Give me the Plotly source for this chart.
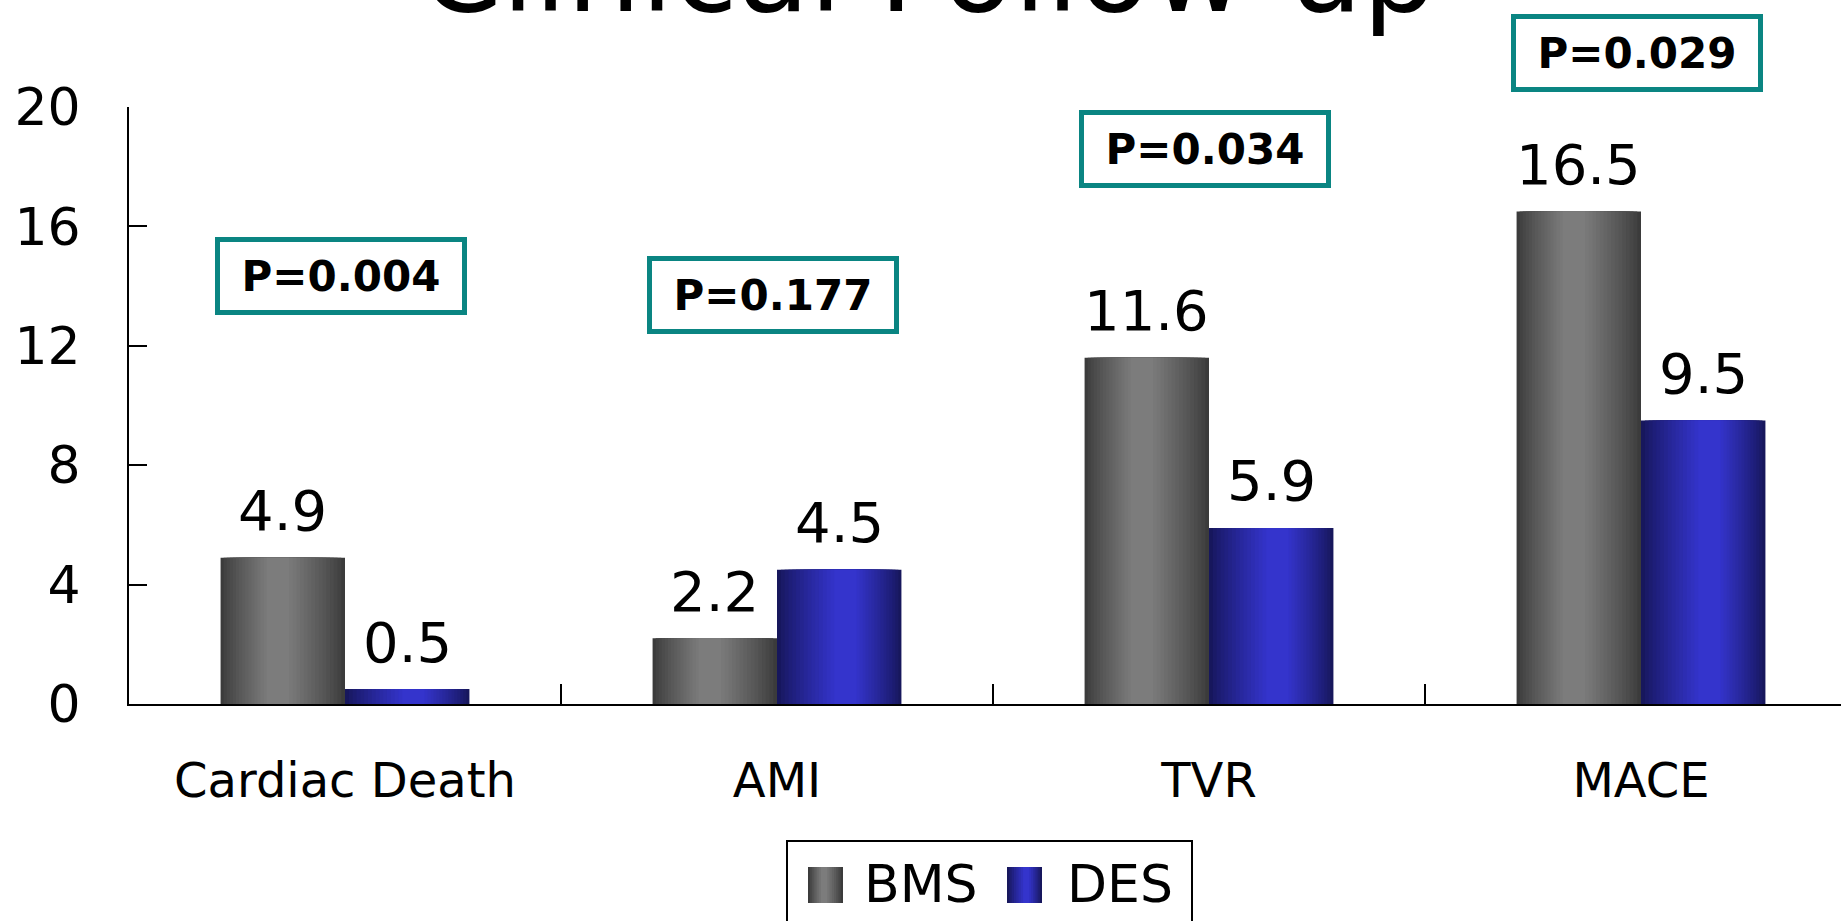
import plotly.graph_objects as go

# ---- data -------------------------------------------------------------
categories = ["Cardiac Death", "AMI", "TVR", "MACE"]
bms_values = [4.9, 2.2, 11.6, 16.5]
des_values = [0.5, 4.5, 5.9, 9.5]
p_values = ["P=0.004", "P=0.177", "P=0.034", "P=0.029"]
series_names = ["BMS", "DES"]
y_ticks = [0, 4, 8, 12, 16, 20]

# heights (axis units) at which the p-value boxes are centred
p_box_y = [14.35, 13.7, 18.6, 21.8]

# ---- page geometry -----------------------------------------------------
PAGE_W, PAGE_H = 1841, 921
M_L, M_T, M_B = 129, 107, 217
PLOT_W = PAGE_W - M_L
PLOT_H = PAGE_H - M_T - M_B
CAT_PX = 432                      # pixel width of one category slot
X_MAX = -0.5 + PLOT_W / CAT_PX    # plot runs off the right edge
Y_MAX = 20
BAR_W = 0.288                     # width of each bar (category units)

FONT = "DejaVu Sans"


def px_x(px):
    return (px - M_L) / PLOT_W


def px_y(py):
    return (PAGE_H - M_B - py) / PLOT_H


def hex_to_rgb(h):
    h = h.lstrip("#")
    return tuple(int(h[i:i + 2], 16) for i in (0, 2, 4))


def mix(c0, c1, t):
    a, b = hex_to_rgb(c0), hex_to_rgb(c1)
    return "rgb(%d,%d,%d)" % tuple(round(a[i] + (b[i] - a[i]) * t) for i in range(3))


# cylinder-like shading: dark edges, light band near the middle
SHADES = {
    "BMS": ("#3b3b3b", "#7c7c7c", 0.46),
    "DES": ("#17175c", "#3434cc", 0.55),
}
N_LAYERS = 16


def shade_layers(edge, peak, centre, n=N_LAYERS, min_frac=0.18):
    out = []
    for k in range(n):
        t = k / (n - 1)
        frac = 1 - (1 - min_frac) * t
        c = 0.5 + (centre - 0.5) * t
        left = c - frac / 2
        out.append((left, frac, mix(edge, peak, t ** 0.85)))
    return out


fig = go.Figure()

for name, values, base in (("BMS", bms_values, -BAR_W), ("DES", des_values, 0.0)):
    edge, peak, centre = SHADES[name]
    for left, frac, col in shade_layers(edge, peak, centre):
        fig.add_trace(go.Bar(
            x=categories, y=values, name=name,
            width=BAR_W * frac, offset=base + BAR_W * left,
            marker=dict(color=col, line=dict(width=0)),
            showlegend=False, hoverinfo="x+y",
        ))

annotations = []

# value labels above each bar
for i, (b, d) in enumerate(zip(bms_values, des_values)):
    for v, xc in ((b, i - BAR_W / 2), (d, i + BAR_W / 2)):
        annotations.append(dict(
            x=xc, y=v, xref="x", yref="y", text=f"{v:g}", showarrow=False,
            yanchor="middle", yshift=47,
            font=dict(family=FONT, size=56, color="black"),
        ))

# p-value boxes (domain-referenced so the top one may sit above the axis range)
for i, (txt, yy) in enumerate(zip(p_values, p_box_y)):
    annotations.append(dict(
        x=i, y=yy / Y_MAX, xref="x", yref="y domain", text=f"<b>{txt}</b>",
        showarrow=False, xanchor="center", yanchor="middle", xshift=-4,
        width=242, height=68, borderwidth=5, borderpad=0,
        bordercolor="#0a8582", bgcolor="white",
        font=dict(family=FONT, size=42, color="black"),
    ))

# title, partly above the top edge of the page
annotations.append(dict(
    x=px_x(928), y=px_y(-29), xref="paper", yref="paper",
    text="Clinical Follow-up", showarrow=False, xanchor="center", yanchor="middle",
    font=dict(family=FONT, size=117, color="black"),
))

# legend
shapes = [dict(
    type="rect", xref="paper", yref="paper",
    x0=px_x(787), x1=px_x(1192), y0=px_y(841), y1=px_y(980),
    line=dict(color="black", width=2), fillcolor="white", layer="above",
)]
legend_items = [("BMS", 808, 862), ("DES", 1007, 1065)]
for name, sx, tx in legend_items:
    edge, peak, centre = SHADES[name]
    for left, frac, col in shade_layers(edge, peak, centre, n=8):
        shapes.append(dict(
            type="rect", xref="paper", yref="paper",
            x0=px_x(sx + 35 * left), x1=px_x(sx + 35 * (left + frac)),
            y0=px_y(867), y1=px_y(903),
            line=dict(width=0), fillcolor=col, layer="above",
        ))
    annotations.append(dict(
        x=px_x(tx), y=px_y(884), xref="paper", yref="paper", text=name,
        showarrow=False, xanchor="left", yanchor="middle",
        font=dict(family=FONT, size=52, color="black"),
    ))

fig.update_layout(
    width=PAGE_W, height=PAGE_H,
    margin=dict(l=M_L, r=0, t=M_T, b=M_B, pad=0),
    paper_bgcolor="white", plot_bgcolor="white",
    barmode="overlay", showlegend=False,
    font=dict(family=FONT, color="black"),
    annotations=annotations, shapes=shapes,
)

fig.update_xaxes(
    type="category", range=[-0.5, X_MAX],
    showline=True, linecolor="black", linewidth=2,
    ticks="inside", tickson="boundaries", ticklen=20, tickwidth=2, tickcolor="black",
    tickfont=dict(family=FONT, size=48, color="black"),
    ticklabelstandoff=33, showgrid=False, zeroline=False,
)
fig.update_yaxes(
    range=[0, Y_MAX], tickvals=y_ticks,
    showline=True, linecolor="black", linewidth=2,
    ticks="inside", ticklen=18, tickwidth=2, tickcolor="black",
    tickfont=dict(family=FONT, size=52, color="black"),
    ticklabelstandoff=36, showgrid=False, zeroline=False,
)

fig.write_html("out.html")
